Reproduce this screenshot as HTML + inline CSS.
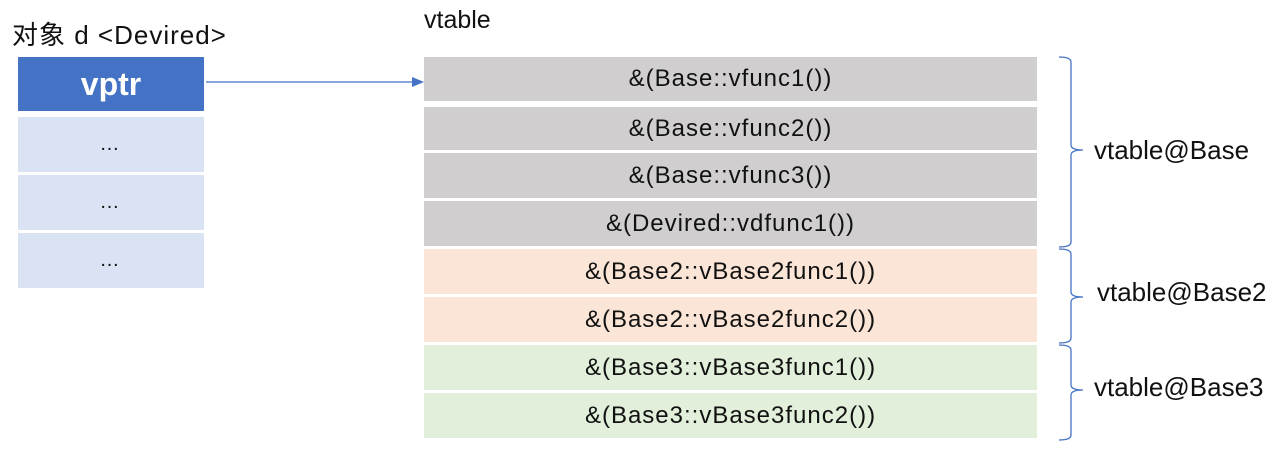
<!DOCTYPE html>
<html><head><meta charset="utf-8"><style>
body{margin:0;width:1275px;height:452px;background:#fff;position:relative;font-family:"Liberation Sans","Noto Sans CJK SC",sans-serif;overflow:hidden}
.a{position:absolute;display:flex;align-items:center;justify-content:center;color:#111}
.r{left:424px;width:613px;font-size:24px;letter-spacing:1px}
.g{background:#d0cece}.p{background:#fbe5d6}.n{background:#e2efda}
.l{left:18px;width:186px;background:#dae3f3;font-size:20px;letter-spacing:3px}
.t{position:absolute;font-size:26px;color:#111;white-space:nowrap}
</style></head><body>
<div class="t" style="left:12px;top:15px;letter-spacing:1px">对象 d &lt;Devired&gt;</div>
<div class="t" style="left:424px;top:6px;font-size:25px">vtable</div>
<div class="a l" style="top:57px;height:54px;background:#4472c4;color:#fff;font-weight:bold;font-size:32px;letter-spacing:0">vptr</div>
<div class="a l" style="top:117px;height:55px">…</div>
<div class="a l" style="top:175px;height:55px">…</div>
<div class="a l" style="top:233px;height:55px">…</div>
<div class="a r g" style="top:57px;height:44px">&amp;(Base::vfunc1())</div>
<div class="a r g" style="top:107px;height:43px">&amp;(Base::vfunc2())</div>
<div class="a r g" style="top:153px;height:45px">&amp;(Base::vfunc3())</div>
<div class="a r g" style="top:201px;height:45px">&amp;(Devired::vdfunc1())</div>
<div class="a r p" style="top:249px;height:45px">&amp;(Base2::vBase2func1())</div>
<div class="a r p" style="top:297px;height:45px">&amp;(Base2::vBase2func2())</div>
<div class="a r n" style="top:345px;height:45px">&amp;(Base3::vBase3func1())</div>
<div class="a r n" style="top:393px;height:45px">&amp;(Base3::vBase3func2())</div>
<svg width="1275" height="452" style="position:absolute;left:0;top:0">
<line x1="206" y1="82" x2="414" y2="82" stroke="#4472c4" stroke-width="1.3"/>
<polygon points="412,77 424,82 412,87" fill="#4472c4"/>
<g fill="none" stroke="#4472c4" stroke-width="1.3">
<path d="M1059,57 Q1071,57 1071,62 L1071,145 Q1071,150 1083,150 Q1071,150 1071,155 L1071,242 Q1071,247 1059,247"/>
<path d="M1059,249 Q1071,249 1071,254 L1071,292 Q1071,297 1083,297 Q1071,297 1071,302 L1071,338 Q1071,343 1059,343"/>
<path d="M1059,345 Q1071,345 1071,350 L1071,385 Q1071,390 1083,390 Q1071,390 1071,395 L1071,435 Q1071,440 1059,440"/>
</g></svg>
<div class="t" style="left:1094px;top:135px">vtable@Base</div>
<div class="t" style="left:1097px;top:277px">vtable@Base2</div>
<div class="t" style="left:1094px;top:372px">vtable@Base3</div>
</body></html>
